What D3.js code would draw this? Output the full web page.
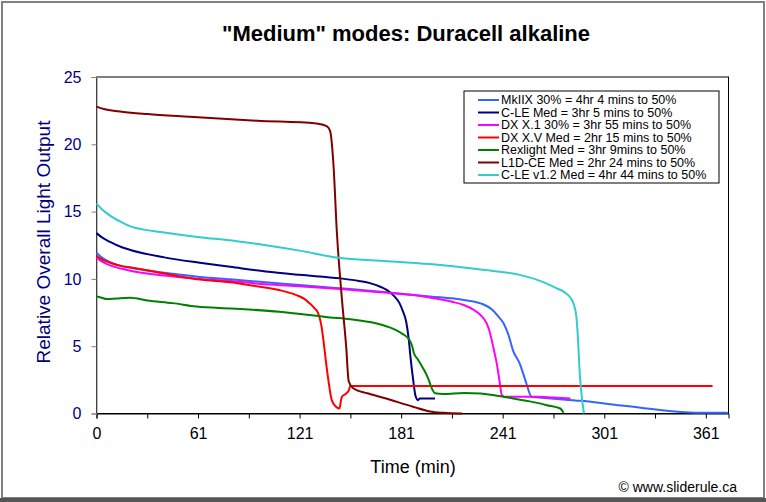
<html>
<head>
<meta charset="utf-8">
<script src="https://d3js.org/d3.v7.min.js"></script>
<style>
  body { margin: 0; background: #fff; }
  text { font-family: Arial, "Liberation Sans", sans-serif; }
</style>
</head>
<body>
<div id="chart"></div>
<script>

// ---- data (time in minutes, relative light output) ----
var mkiix = [[0,11.95],[3,11.6],[8,11.25],[15,10.95],[20,10.85],[40,10.45],[61,10.15],[79,9.97],[100,9.75],[120,9.55],[144,9.3],[168,9.05],[197,8.7],[217,8.43],[227,8.18],[234,7.69],[237.5,7.2],[240.5,6.7],[243.5,5.8],[246,4.71],[250,3.72],[252,3.0],[254,2.23],[257,1.24],[260,1.2],[270,1.1],[286,0.94],[300,0.75],[325,0.37],[345,0.12],[362,0.05],[373,0.05]];
var cle = [[0,13.4],[3,13.1],[8,12.75],[15,12.35],[20,12.15],[40,11.6],[61,11.2],[79,10.9],[100,10.55],[120,10.3],[144,10.04],[155,9.85],[162,9.67],[168,9.4],[173,9.05],[176,8.7],[179,8.2],[181,7.6],[183,6.8],[184.5,5.5],[185.5,4.2],[187,2.6],[188.5,1.3],[190,0.99],[191,1.12],[200,1.12]];
var dxx1 = [[0,11.55],[3,11.3],[8,11.0],[15,10.75],[20,10.6],[40,10.25],[61,10.0],[79,9.85],[100,9.6],[120,9.45],[144,9.25],[168,9.0],[187,8.8],[200,8.55],[210,8.3],[217,8.06],[223,7.69],[227,7.3],[230.5,6.7],[232,6.2],[233.5,5.45],[235,4.6],[236.5,3.7],[238,2.5],[239.5,1.36],[241,1.25],[246,1.24],[260,1.24],[270,1.18],[280,1.12]];
var dxxv = [[0,11.7],[3,11.45],[8,11.2],[15,10.95],[20,10.85],[40,10.4],[61,9.95],[79,9.75],[95,9.45],[108,9.17],[118,8.8],[123,8.5],[126,8.18],[129,7.8],[131,7.44],[133,6.44],[134,5.5],[135,4.46],[136,3.4],[137,2.48],[139,0.99],[141.5,0.5],[143.5,0.37],[144.5,1.0],[145,1.24],[147.5,1.49],[149,1.7],[150,2.05],[364,2.05]];
var rexlight = [[0,8.7],[3,8.6],[6,8.5],[12,8.55],[20,8.6],[30,8.4],[45,8.2],[59,7.95],[80,7.8],[108,7.56],[138,7.14],[150,7.0],[165,6.7],[172,6.45],[177,6.2],[181,5.9],[185,5.45],[186.5,5.0],[187.5,4.5],[190,4.0],[193,3.35],[196,2.6],[198,1.9],[200,1.5],[205,1.45],[217,1.53],[227,1.49],[235,1.35],[246,1.12],[256,0.9],[266,0.62],[274,0.37],[276,0.05]];
var l1dce = [[0,22.8],[5,22.6],[15,22.42],[30,22.25],[55,22.05],[95,21.75],[130,21.55],[136,21.35],[138,21.0],[140,18.5],[142,13.5],[145,8.5],[147.5,5.0],[149,2.4],[151.5,1.9],[160,1.5],[170,1.15],[187,0.5],[197,0.15],[205,0.05],[216,0.0]];
var clev12 = [[0,15.6],[3,15.2],[8,14.7],[15,14.2],[20,13.9],[40,13.45],[61,13.1],[80,12.85],[100,12.5],[120,12.1],[144,11.55],[168,11.35],[197,11.1],[227,10.7],[250,10.3],[260,9.95],[266,9.65],[272,9.3],[276,9.05],[280,8.6],[282,8.1],[283.5,7.2],[284.5,5.5],[285.5,3.0],[286.5,1.5],[288,0]];

var seriesNames = ["MkIIX 30% = 4hr 4 mins to 50%", "C-LE Med = 3hr 5 mins to 50%", "DX X.1 30% = 3hr 55 mins to 50%", "DX X.V Med = 2hr 15 mins to 50%", "Rexlight Med = 3hr 9mins to 50%", "L1D-CE Med = 2hr 24 mins to 50%", "C-LE v1.2 Med = 4hr 44 mins to 50%"];
var seriesColors = ["#3366FF", "#000080", "#FF00FF", "#FF0000", "#008000", "#800000", "#33CCCC"];
var seriesData = [mkiix, cle, dxx1, dxxv, rexlight, l1dce, clev12];

var xTickValues = [0, 60, 120, 180, 240, 300, 360];
var xTickLabels = ["0", "61", "121", "181", "241", "301", "361"];
var xMinorTicks = [0, 30, 60, 90, 120, 150, 180, 210, 240, 270, 300, 330, 360];
var yTickValues = [0, 5, 10, 15, 20, 25];

// ---- layout ----
var W = 766, H = 502;
var plot = { left: 96.5, top: 77, right: 728.5, bottom: 413.5 };

var svg = d3.select("#chart").append("svg")
    .attr("width", W)
    .attr("height", H);

// chart area frame
svg.append("rect")
    .attr("x", 0).attr("y", 0).attr("width", W).attr("height", H)
    .style("fill", "#fff");
svg.append("rect")
    .attr("x", 2).attr("y", 2).attr("width", W - 4).attr("height", H - 6)
    .style("fill", "none")
    .style("stroke", "#808080")
    .style("stroke-width", 2);
svg.append("rect")
    .attr("x", 0).attr("y", H - 4).attr("width", W).attr("height", 4)
    .style("fill", "#555");

var x = d3.scaleLinear().domain([0, 373.4]).range([plot.left, plot.right]);
var y = d3.scaleLinear().domain([0, 25]).range([plot.bottom, plot.top]);

// plot area border
svg.append("rect")
    .attr("x", plot.left).attr("y", plot.top)
    .attr("width", plot.right - plot.left).attr("height", plot.bottom - plot.top)
    .style("fill", "#fff")
    .style("stroke", "#000")
    .style("stroke-width", 1);

// title
svg.append("text")
    .attr("x", 406)
    .attr("y", 41)
    .attr("text-anchor", "middle")
    .style("font-size", "22px")
    .style("font-weight", "bold")
    .text("\"Medium\" modes: Duracell alkaline");

// x axis: minor tick every 30, label every 60
var xAxis = svg.append("g")
    .attr("transform", "translate(0," + plot.bottom + ")")
    .call(d3.axisBottom(x).tickValues(xMinorTicks).tickSize(5).tickPadding(9)
        .tickFormat(function (d) {
            var i = xTickValues.indexOf(d);
            return i >= 0 ? xTickLabels[i] : "";
        }));
xAxis.selectAll("text").style("font-size", "16px").style("fill", "#000");
xAxis.selectAll("line").style("stroke", "#000");
xAxis.select(".domain").style("stroke", "#000");

// y axis
var yAxis = svg.append("g")
    .attr("transform", "translate(" + plot.left + ",0)")
    .call(d3.axisLeft(y).tickValues(yTickValues).tickSize(5).tickPadding(10));
yAxis.selectAll("text").style("font-size", "16px").style("fill", "#000080");
yAxis.selectAll("line").style("stroke", "#808080");
yAxis.select(".domain").style("stroke", "#808080");

// axis titles
svg.append("text")
    .attr("x", 413)
    .attr("y", 473)
    .attr("text-anchor", "middle")
    .style("font-size", "18px")
    .text("Time (min)");

svg.append("text")
    .attr("transform", "translate(50,242) rotate(-90)")
    .attr("text-anchor", "middle")
    .style("font-size", "19px")
    .style("fill", "#000080")
    .text("Relative Overall Light Output");

svg.append("text")
    .attr("x", 737)
    .attr("y", 492)
    .attr("text-anchor", "end")
    .style("font-size", "14px")
    .text("\u00A9 www.sliderule.ca");

// lines
var line = d3.line()
    .x(function (d) { return x(d[0]); })
    .y(function (d) { return y(d[1]); })
    .curve(d3.curveMonotoneX);

svg.selectAll(".series")
    .data(seriesData)
    .enter()
    .append("path")
    .attr("class", "series")
    .attr("d", line)
    .style("fill", "none")
    .style("stroke", function (d, i) { return seriesColors[i]; })
    .style("stroke-width", 2);

// legend
var legend = svg.append("g").attr("transform", "translate(464,91)");
legend.append("rect")
    .attr("width", 255).attr("height", 92)
    .style("fill", "#fff")
    .style("stroke", "#000")
    .style("stroke-width", 1);

var item = legend.selectAll(".item")
    .data(seriesNames)
    .enter()
    .append("g")
    .attr("class", "item")
    .attr("transform", function (d, i) { return "translate(0," + (9 + i * 12.5) + ")"; });
item.append("line")
    .attr("x1", 14).attr("x2", 35)
    .style("stroke", function (d, i) { return seriesColors[i]; })
    .style("stroke-width", 2);
item.append("text")
    .attr("x", 37)
    .attr("dy", "0.35em")
    .style("font-size", "12.5px")
    .text(function (d) { return d; });

</script>
</body>
</html>
